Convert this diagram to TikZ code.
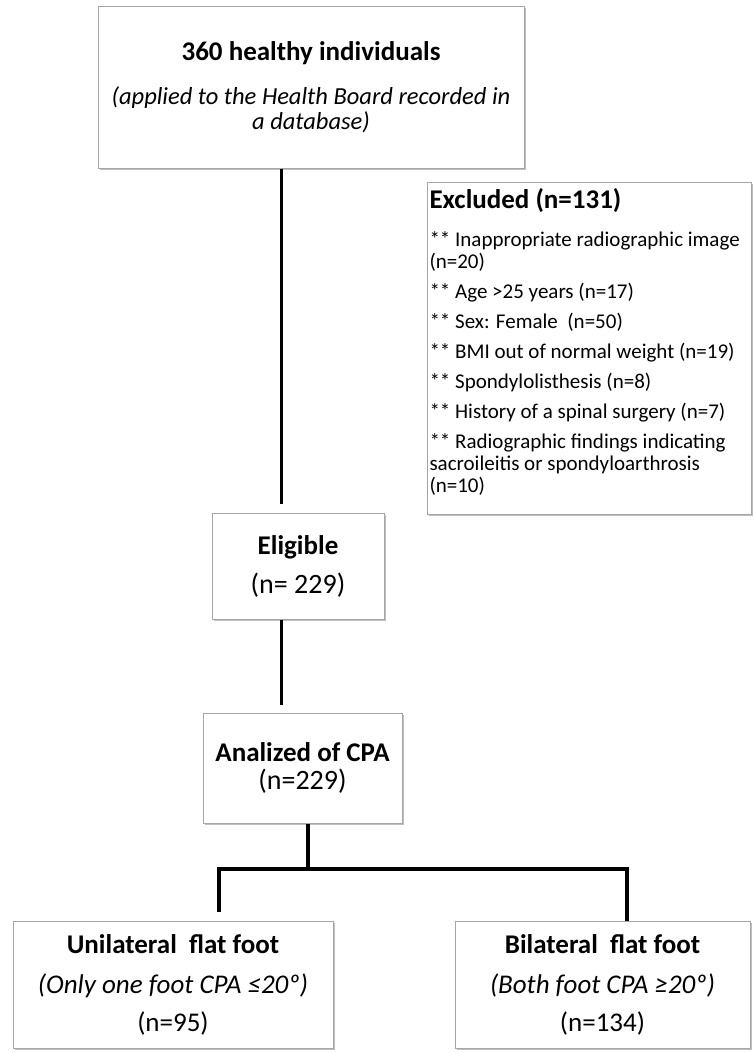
\documentclass[tikz,border=0pt]{standalone}
\usepackage{fontspec}
\setmainfont{Carlito}
\usetikzlibrary{shadows}
\definecolor{boxgray}{HTML}{A6A6A6}
\newcommand\hdfont{\fontsize{27}{27}\selectfont\bfseries}
\newcommand\subfont{\itshape}

\begin{document}
\begin{tikzpicture}[
    x=1pt, y=-1pt,
    box/.style={draw=boxgray, line width=1pt, fill=white, align=center, inner sep=0pt,
      drop shadow={shadow xshift=1.5pt, shadow yshift=-1.5pt, opacity=0.25, fill=black}},
    link/.style={line width=3pt},
    tree/.style={line width=4.5pt}
  ]
    \useasboundingbox (0,0) rectangle (754,1053);

    % Main column
    \node[box, minimum width=426pt, minimum height=162pt, font=\fontsize{24.5}{25}\selectfont] (top) at (311,87)
      {{\hdfont 360 healthy individuals}\\[19pt]
       {\subfont (applied to the Health Board recorded in}\\
       {\subfont a database)}};
    \node[box, minimum width=172pt, minimum height=106pt, font=\fontsize{28}{28}\selectfont] (elig) at (298,566)
      {{\hdfont Eligible}\\[11pt](n= 229)};
    \node[box, minimum width=199pt, minimum height=110pt, font=\fontsize{28}{28}\selectfont] (cpa) at (302.5,768)
      {{\hdfont Analized of CPA}\\(n=229)};

    % Excluded
    \node[box, minimum width=324pt, minimum height=332pt, text width=319pt, align=flush left,
      font=\fontsize{21}{22}\selectfont] (excl) at (589,348)
      {{\hdfont Excluded (n=131)}\\[16pt]
       ** Inappropriate radiographic image\\
       (n=20)\\[8pt]
       ** Age >25 years (n=17)\\[8pt]
       ** Sex: Female~ (n=50)\\[8pt]
       ** BMI out of normal weight (n=19)\\[8pt]
       ** Spondylolisthesis (n=8)\\[8pt]
       ** History of a spinal surgery (n=7)\\[8pt]
       ** Radiographic findings indicating\\
       sacroileitis or spondyloarthrosis\\
       (n=10)\rule[-15pt]{0pt}{15pt}};

    % Groups
    \node[box, minimum width=320pt, minimum height=127pt, font=\fontsize{27}{27}\selectfont] (uni) at (173,985)
      {{\hdfont Unilateral~ flat foot}\\[13pt]
       {\subfont (Only one foot CPA ≤20º)}\\[11pt]
       (n=95)};
    \node[box, minimum width=295pt, minimum height=127pt, font=\fontsize{27}{27}\selectfont] (bi) at (602.5,985)
      {{\hdfont Bilateral~ flat foot}\\[13pt]
       {\subfont (Both foot CPA ≥20º)}\\[11pt]
       (n=134)};

    % Connections
    \coordinate (spine) at (281,0);
    \coordinate (fork) at (308,869);
    \coordinate (lend) at (219,912);
    \coordinate (rend) at (627,0);
    \draw[link] (top.south -| spine) -- ++(0,335);
    \draw[link] (elig.south -| spine) -- ++(0,85);
    \draw[tree] (cpa.south -| fork) -- (fork);
    \draw[tree] (lend) |- (fork) -| (bi.north -| rend);
  \end{tikzpicture}
\end{document}
